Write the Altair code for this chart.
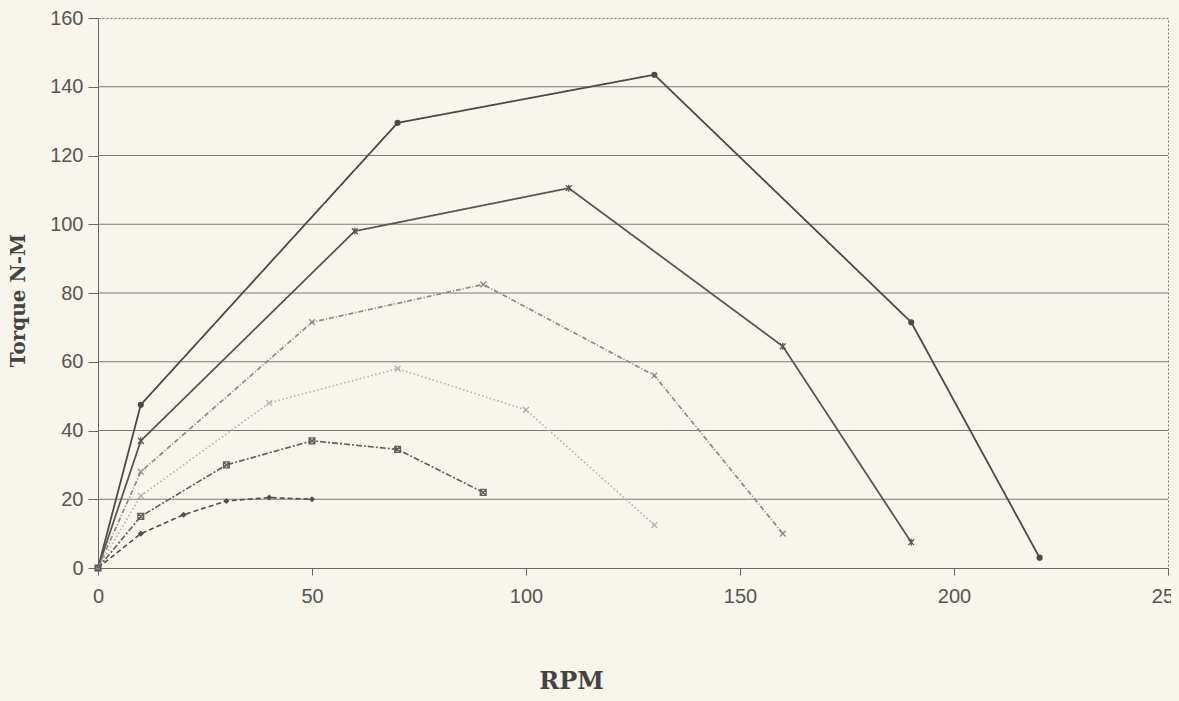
import altair as alt
import pandas as pd

# ---- data ----
series_names = ["S1", "S2", "S3", "S4", "S5", "S6"]
rpm_1 = [0, 10, 70, 130, 190, 220]
torque_1 = [0, 47.5, 129.5, 143.5, 71.5, 3]
rpm_2 = [0, 10, 60, 110, 160, 190]
torque_2 = [0, 37, 98, 110.5, 64.5, 7.5]
rpm_3 = [0, 10, 50, 90, 130, 160]
torque_3 = [0, 28, 71.5, 82.5, 56, 10]
rpm_4 = [0, 10, 40, 70, 100, 130]
torque_4 = [0, 21, 48, 58, 46, 12.5]
rpm_5 = [0, 10, 30, 50, 70, 90]
torque_5 = [0, 15, 30, 37, 34.5, 22]
rpm_6 = [0, 10, 20, 30, 40, 50]
torque_6 = [0, 10, 15.5, 19.5, 20.5, 20]

x_ticks = [0, 50, 100, 150, 200, 250]
y_ticks = [0, 20, 40, 60, 80, 100, 120, 140, 160]
grid_values = [20, 40, 60, 80, 100, 120, 140]

rpms = [rpm_1, rpm_2, rpm_3, rpm_4, rpm_5, rpm_6]
torques = [torque_1, torque_2, torque_3, torque_4, torque_5, torque_6]

rows = []
for name, xs, ys in zip(series_names, rpms, torques):
    for i, (xv, yv) in enumerate(zip(xs, ys)):
        rows.append({"series": name, "idx": i, "rpm": xv, "torque": yv})
df = pd.DataFrame(rows)
grid_df = pd.DataFrame({"g": grid_values})

# ---- styling ----
bg = "#f8f5ec"
colors = ["#4a4a4a", "#555555", "#8a8a8a", "#b0b0b0", "#606060", "#505050"]
dashes = [[1, 0], [1, 0], [5, 2, 1, 2], [1.5, 2.5], [6, 2, 2, 2], [5, 3]]
widths = [1.8, 1.6, 1.3, 1.2, 1.5, 1.5]
ast = "M-1,-1L1,1M-1,1L1,-1M0,-1.2L0,1.2"
xmark = "M-1,-1L1,1M-1,1L1,-1"
sqx = "M-1,-1H1V1H-1ZM-1,-1L1,1M-1,1L1,-1"
shapes = ["circle", ast, xmark, xmark, sqx, "diamond"]

label_font = "Liberation Sans"
title_font = "DejaVu Serif"

x_scale = alt.Scale(domain=[0, 250], nice=False, zero=True)
y_scale = alt.Scale(domain=[0, 160], nice=False)

x_axis = alt.Axis(
    values=x_ticks, grid=False, title="RPM", labelFlush=False,
    labelFont=label_font, labelFontSize=20, labelColor="#555555",
    tickSize=7, tickColor="#666666", domainColor="#666666", labelPadding=11,
    titleFont=title_font, titleFontSize=24, titleFontWeight="bold",
    titleColor="#444444", titleX=473, titleY=113, titleBaseline="middle",
    titleAlign="center",
)
y_axis = alt.Axis(
    values=y_ticks, grid=False, title="Torque N-M", labelFlush=False,
    labelFont=label_font, labelFontSize=20, labelColor="#555555",
    tickSize=10, tickColor="#666666", domainColor="#666666", labelPadding=5,
    titleFont=title_font, titleFontSize=20, titleFontWeight="bold",
    titleColor="#444444", titleX=-80, titleY=282, titleAngle=270,
    titleAlign="center", titleBaseline="middle",
)

color_enc = alt.Color("series:N", scale=alt.Scale(domain=series_names, range=colors), legend=None)

grid = alt.Chart(grid_df).mark_rule(color="#7a7a7a", strokeWidth=1.2).encode(
    y=alt.Y("g:Q", scale=y_scale, axis=y_axis)
)

lines = alt.Chart(df).mark_line().encode(
    x=alt.X("rpm:Q", scale=x_scale, axis=x_axis),
    y=alt.Y("torque:Q", scale=y_scale, axis=y_axis),
    color=color_enc,
    strokeDash=alt.StrokeDash("series:N", scale=alt.Scale(domain=series_names, range=dashes), legend=None),
    strokeWidth=alt.StrokeWidth("series:N", scale=alt.Scale(domain=series_names, range=widths), legend=None),
    detail="series:N",
    order="idx:Q",
)

filled_pts = alt.Chart(df).mark_point(filled=True, opacity=1).encode(
    x=alt.X("rpm:Q", scale=x_scale, axis=x_axis),
    y=alt.Y("torque:Q", scale=y_scale, axis=y_axis),
    color=color_enc,
    shape=alt.Shape("series:N", scale=alt.Scale(domain=series_names, range=shapes), legend=None),
    size=alt.value(38),
).transform_filter(alt.FieldOneOfPredicate(field="series", oneOf=["S1", "S6"]))

open_pts = alt.Chart(df).mark_point(filled=False, opacity=1, strokeWidth=1.3).encode(
    x=alt.X("rpm:Q", scale=x_scale, axis=x_axis),
    y=alt.Y("torque:Q", scale=y_scale, axis=y_axis),
    color=color_enc,
    shape=alt.Shape("series:N", scale=alt.Scale(domain=series_names, range=shapes), legend=None),
    size=alt.value(34),
).transform_filter(alt.FieldOneOfPredicate(field="series", oneOf=["S2", "S3", "S4", "S5"]))

chart = alt.layer(grid, lines, filled_pts, open_pts).properties(
    width=1070, height=550,
    autosize=alt.AutoSizeParams(type="none"),
    padding={"left": 90, "top": 10, "right": 0, "bottom": 123},
    background=bg,
).configure_view(stroke="#777777", strokeDash=[2, 2], strokeWidth=1)

chart.save("out.html", embed_options={"renderer": "svg", "actions": False})

# paper-coloured page around the chart; let the last tick label run to the window edge
with open("out.html", encoding="utf-8") as f:
    html = f.read()
style = "<style>body{background:%s;overflow:hidden;}svg{overflow:visible;}</style></head>" % bg
html = html.replace("</head>", style, 1)
with open("out.html", "w", encoding="utf-8") as f:
    f.write(html)
